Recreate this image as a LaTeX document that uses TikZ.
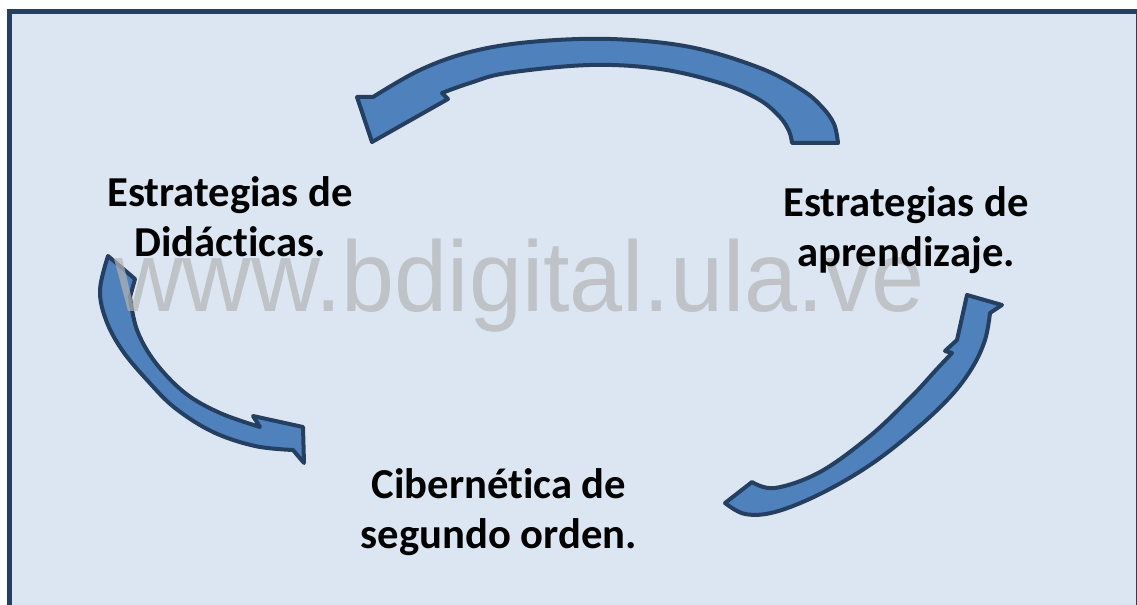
\documentclass[tikz,border=0pt]{standalone}
\usepackage{fontspec}
\setmainfont{Carlito}[Ligatures=NoCommon]
\newfontfamily\wmfont{Liberation Sans}
\definecolor{bgblue}{HTML}{DCE6F2}
\definecolor{navy}{HTML}{243F60}
\definecolor{arrowblue}{HTML}{4F81BD}
\definecolor{wmgray}{HTML}{B4B4B4}
\begin{document}
\begin{tikzpicture}[x=0.75pt,y=-0.75pt,
  arrowshape/.style={fill=arrowblue, draw=navy, line width=3pt, line join=round},
  lbl/.style={font=\bfseries\fontsize{32}{37.5}\selectfont, inner sep=0pt, anchor=base},
  wm/.style={font=\wmfont\fontsize{71.5}{80}\selectfont, inner sep=0pt, anchor=base, text=wmgray, text opacity=0.7}]
\useasboundingbox (0,0) rectangle (1137,605);
\fill[white] (0,0) rectangle (1137,605);
\begin{scope}
\clip (0,0) rectangle (1137,605);
\draw[navy, fill=bgblue, line width=3.4pt] (9.5,11.3) rectangle (1138.5,625);
\end{scope}
% top arrow
\draw[arrowshape] plot[smooth, tension=0.6] coordinates {(838,143) (834,124) (822,107) (802,90) (760,68) (690,47) (610,39) (530,42) (470,52) (420,70) (373,97)}
  -- (357,97) -- (372,142) -- (448,99)
  -- plot[smooth, tension=0.6] coordinates {(442,93) (470,83) (507,73) (590,65) (660,69) (720,83) (758,99) (779,116) (789,131) (792,143)} -- cycle;
% left arrow
\draw[arrowshape] (108,256) -- (135,279)
  -- plot[smooth, tension=0.6] coordinates {(130,297) (137,330) (155,362) (185,393) (220,413) (260,427)}
  -- (253,416) -- (303,427) -- (304,463)
  -- plot[smooth, tension=0.6] coordinates {(293,450) (255,446) (213,432) (175,408) (147,380) (122,350) (106,320) (100,290) (108,256)} -- cycle;
% right arrow
\draw[arrowshape] (967,295) -- (1002,305)
  -- plot[smooth, tension=0.6] coordinates {(990,313) (985,340) (972,368) (950,397) (915,430) (870,465) (820,494) (775,512) (745,514) (725,503)}
  -- plot[smooth, tension=0.6] coordinates {(752,482) (775,488) (820,472) (870,436) (912,396) (936,370) (952,353)}
  -- (945,351) -- (957,340) -- cycle;
% watermark
\node[wm] (wmark) at (519.5,312) {\scalebox{1}[1.05]{www.bdigital.ula.ve}};
% labels
\node[lbl] (didac) at (230,207) {\begin{tabular}[t]{@{}c@{}}Estrategias de\\Didácticas.\end{tabular}};
\node[lbl] (aprend) at (906,217) {\begin{tabular}[t]{@{}c@{}}Estrategias de\\aprendizaje.\end{tabular}};
\node[lbl] (ciber) at (499,498) {\begin{tabular}[t]{@{}c@{}}Cibernética de\\segundo orden.\end{tabular}};
\end{tikzpicture}
\end{document}
